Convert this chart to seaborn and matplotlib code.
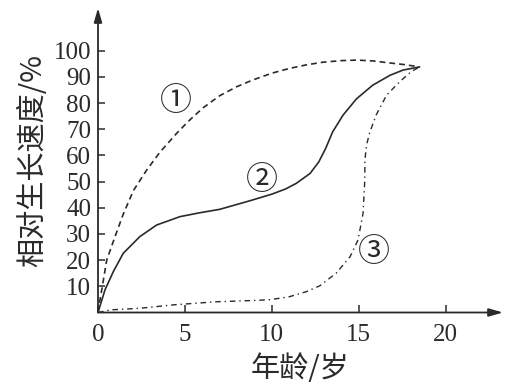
import matplotlib
matplotlib.use("Agg")
import matplotlib.pyplot as plt
import seaborn as sns
import pandas as pd

sns.set_theme(style="white")
plt.rcParams['font.family'] = ['Noto Sans CJK SC', 'DejaVu Sans']

# curve ① (dashed)
x1 = [0, 0.12, 0.25, 0.5, 0.98, 1.45, 2.03, 2.8, 3.56, 4.52, 5.29, 6.05, 7.0, 7.97, 8.9, 10.0, 11.0, 12.0, 12.95, 14.0, 14.87, 15.8, 16.8, 17.6, 18.5]
y1 = [0, 5, 10, 20, 29, 37.5, 46.5, 54.4, 61.2, 68.4, 73.6, 78.2, 82.8, 86.2, 88.8, 91.4, 93.2, 94.6, 95.6, 96.2, 96.4, 96.1, 95.3, 94.7, 93.8]
# curve ② (solid)
x2 = [0, 0.4, 0.88, 1.45, 2.41, 3.37, 4.71, 5.86, 7.0, 8.7, 10.0, 10.8, 11.4, 12.2, 12.7, 13.1, 13.5, 14.1, 14.87, 15.8, 16.8, 17.55, 18.5]
y2 = [0, 8.6, 15.6, 22.6, 29, 33.4, 36.6, 38.1, 39.4, 42.6, 45.2, 47.2, 49.3, 53.1, 57.5, 62.7, 69.0, 75.4, 81.6, 86.8, 90.6, 92.6, 93.8]
# curve ③ (dash-dot)
x3 = [0, 0.69, 2.4, 4.3, 6.8, 9.0, 9.9, 11.0, 12.0, 12.76, 13.7, 14.5, 14.96, 15.25, 15.34, 15.36, 15.45, 15.63, 16.0, 16.6, 17.35, 18.0, 18.5]
y3 = [0, 1.0, 1.6, 2.9, 4.1, 4.6, 4.9, 6.0, 8.0, 10.2, 15.0, 21.3, 27.7, 37.9, 49.3, 58.5, 64.0, 68.7, 75.4, 83.0, 88.1, 91.9, 93.8]

curve_labels = ["①", "②", "③"]
label_pos = [(4.5, 80.6), (9.43, 50.6), (15.9, 23.2)]

x_ticks = [0, 5, 10, 15, 20]
y_ticks = [10, 20, 30, 40, 50, 60, 70, 80, 90, 100]
x_title = "年龄/岁"
y_title = "相对生长速度/%"

ink = "#2a2a2a"

fig = plt.figure(figsize=(5.05, 3.85), dpi=100)
ax = fig.add_axes([98/505, 72.5/385, 405/505, 304.5/385])

df1 = pd.DataFrame({"x": x1, "y": y1})
df2 = pd.DataFrame({"x": x2, "y": y2})
df3 = pd.DataFrame({"x": x3, "y": y3})

sns.lineplot(data=df1, x="x", y="y", sort=False, estimator=None, ax=ax,
             color=ink, lw=1.2)
ax.lines[-1].set_dashes((3.5, 2.4))
sns.lineplot(data=df2, x="x", y="y", sort=False, estimator=None, ax=ax,
             color=ink, lw=1.2)
sns.lineplot(data=df3, x="x", y="y", sort=False, estimator=None, ax=ax,
             color=ink, lw=1.0)
ax.lines[-1].set_dashes((4, 2.8, 1, 2.8))
for ln in ax.lines:
    ln.set_solid_joinstyle("round")
    ln.set_dash_joinstyle("round")

for lab, (lx, ly) in zip(curve_labels, label_pos):
    ax.text(lx, ly, lab, fontsize=23, color=ink, ha="center", va="center",
            family=['Noto Sans CJK SC', 'DejaVu Sans'])

ax.set_xlim(0, 23.3)
ax.set_ylim(0, 116.3)
for s in ax.spines.values():
    s.set_visible(False)

ax.annotate("", xy=(1, 0), xycoords="axes fraction", xytext=(0, 0),
            arrowprops=dict(arrowstyle="-|>,head_length=0.7,head_width=0.2",
                            color=ink, lw=1.3, shrinkA=0, shrinkB=0))
ax.annotate("", xy=(0, 1), xycoords="axes fraction", xytext=(0, 0),
            arrowprops=dict(arrowstyle="-|>,head_length=0.7,head_width=0.2",
                            color=ink, lw=1.3, shrinkA=0, shrinkB=0))

ax.set_xticks(x_ticks)
ax.set_yticks(y_ticks)
ax.set_xticklabels([str(t) for t in x_ticks])
ax.set_yticklabels([str(t) for t in y_ticks])
ax.tick_params(axis="x", direction="in", length=6, width=1.1, color=ink, pad=8,
               bottom=True, labelsize=18, labelcolor=ink)
ax.tick_params(axis="y", direction="in", length=5, width=1.1, color=ink, pad=5,
               left=True, labelsize=18, labelcolor=ink)
for lab in ax.get_xticklabels() + ax.get_yticklabels():
    lab.set_fontfamily(["Liberation Serif", "DejaVu Serif"])

ax.set_xlabel(x_title, fontsize=21, color=ink, labelpad=6)
ax.set_ylabel(y_title, fontsize=21, color=ink, labelpad=4)
ax.grid(False)

fig.savefig("out.png", dpi=100)
